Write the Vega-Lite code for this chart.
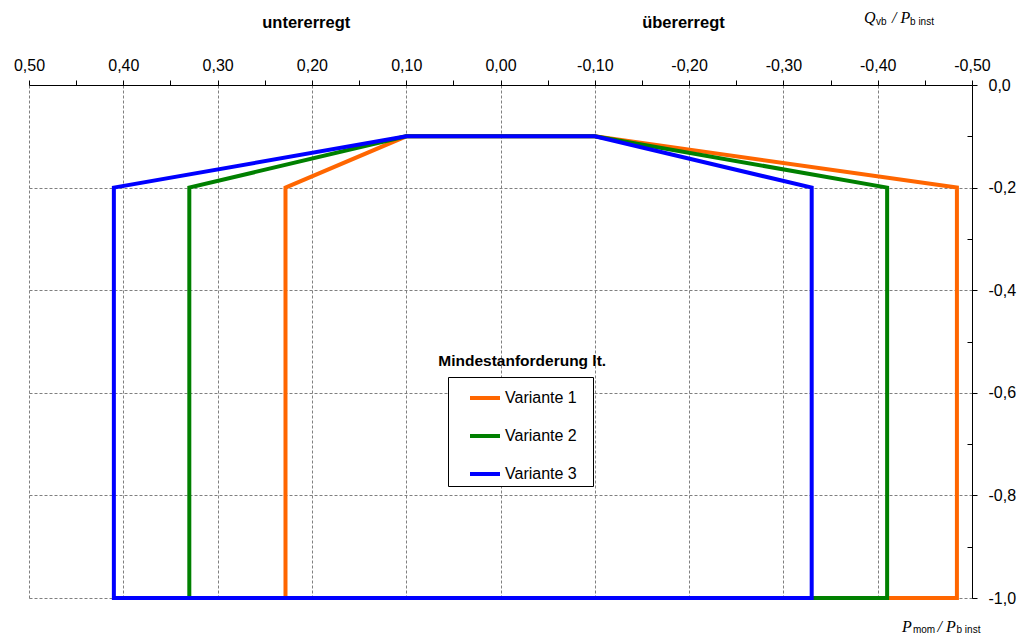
{
  "$schema": "https://vega.github.io/schema/vega-lite/v6.json",
  "width": 943,
  "height": 513,
  "autosize": "none",
  "padding": {"left": 29, "top": 85, "right": 48, "bottom": 38},
  "background": "white",
  "config": {"view": {"stroke": null}, "font": "Liberation Sans"},
  "datasets": {
    "poly": [
      {"Variante": "Variante 1", "i": 0, "Q": 0.228, "P": -1.0},
      {"Variante": "Variante 1", "i": 1, "Q": 0.228, "P": -0.2},
      {"Variante": "Variante 1", "i": 2, "Q": 0.1, "P": -0.1},
      {"Variante": "Variante 1", "i": 3, "Q": -0.1, "P": -0.1},
      {"Variante": "Variante 1", "i": 4, "Q": -0.484, "P": -0.2},
      {"Variante": "Variante 1", "i": 5, "Q": -0.484, "P": -1.0},
      {"Variante": "Variante 1", "i": 6, "Q": 0.228, "P": -1.0},
      {"Variante": "Variante 2", "i": 0, "Q": 0.33, "P": -1.0},
      {"Variante": "Variante 2", "i": 1, "Q": 0.33, "P": -0.2},
      {"Variante": "Variante 2", "i": 2, "Q": 0.1, "P": -0.1},
      {"Variante": "Variante 2", "i": 3, "Q": -0.1, "P": -0.1},
      {"Variante": "Variante 2", "i": 4, "Q": -0.41, "P": -0.2},
      {"Variante": "Variante 2", "i": 5, "Q": -0.41, "P": -1.0},
      {"Variante": "Variante 2", "i": 6, "Q": 0.33, "P": -1.0},
      {"Variante": "Variante 3", "i": 0, "Q": 0.41, "P": -1.0},
      {"Variante": "Variante 3", "i": 1, "Q": 0.41, "P": -0.2},
      {"Variante": "Variante 3", "i": 2, "Q": 0.1, "P": -0.1},
      {"Variante": "Variante 3", "i": 3, "Q": -0.1, "P": -0.1},
      {"Variante": "Variante 3", "i": 4, "Q": -0.33, "P": -0.2},
      {"Variante": "Variante 3", "i": 5, "Q": -0.33, "P": -1.0},
      {"Variante": "Variante 3", "i": 6, "Q": 0.41, "P": -1.0}
    ],
    "heads": [
      {"text": "untererregt", "Q": 0.206, "P": 0.111},
      {"text": "übererregt", "Q": -0.194, "P": 0.111}
    ],
    "legtitle": [
      {"text": "Mindestanforderung lt.", "Q": -0.023, "P": -0.548}
    ],
    "mainpieces": [
      {"text": "Q", "Q": -0.3855, "P": 0.1199},
      {"text": "/ P", "Q": -0.4152, "P": 0.1199},
      {"text": "P", "Q": -0.4258, "P": -1.0663},
      {"text": "/ P", "Q": -0.4635, "P": -1.0663}
    ],
    "subpieces": [
      {"text": "vb", "Q": -0.3982, "P": 0.1179},
      {"text": "b inst", "Q": -0.4343, "P": 0.1179},
      {"text": "mom", "Q": -0.4374, "P": -1.0682},
      {"text": "b inst", "Q": -0.4836, "P": -1.0682}
    ]
  },
  "layer": [
    {
      "data": {"name": "poly"},
      "mark": {"type": "line", "strokeWidth": 4, "strokeJoin": "miter", "strokeCap": "square"},
      "encoding": {
        "x": {
          "field": "Q", "type": "quantitative",
          "scale": {"domain": [0.5, -0.5], "nice": false, "zero": false},
          "axis": {
            "orient": "top", "title": null,
            "values": [0.5, 0.45, 0.4, 0.35, 0.3, 0.25, 0.2, 0.15, 0.1, 0.05, 0, -0.05, -0.1, -0.15, -0.2, -0.25, -0.3, -0.35, -0.4, -0.45, -0.5],
            "labelExpr": "abs(round(datum.value*20)) % 2 == 1 ? '' : (datum.value < -0.001 ? '-' : '') + replace(format(abs(datum.value), '.2f'), '.', ',')",
            "labelFont": "Liberation Sans", "labelFontSize": 16, "labelColor": "black",
            "labelOverlap": false, "labelFlush": false, "labelPadding": 7,
            "domainColor": "black", "domainWidth": 1,
            "tickColor": "black", "tickSize": 5, "tickWidth": 1,
            "grid": true, "gridColor": "#808080", "gridDash": [3, 2], "gridWidth": 1,
            "gridOpacity": {"condition": {"test": "abs(round(datum.value*20)) % 2 == 1", "value": 0}, "value": 1}
          }
        },
        "y": {
          "field": "P", "type": "quantitative",
          "scale": {"domain": [-1, 0], "nice": false, "zero": false},
          "axis": {
            "orient": "right", "title": null,
            "values": [0, -0.05, -0.1, -0.15, -0.2, -0.25, -0.3, -0.35, -0.4, -0.45, -0.5, -0.55, -0.6, -0.65, -0.7, -0.75, -0.8, -0.85, -0.9, -0.95, -1],
            "labelExpr": "abs(round(datum.value*20)) % 4 != 0 ? '' : (datum.value < -0.001 ? '-' : '') + replace(format(abs(datum.value), '.1f'), '.', ',')",
            "labelFont": "Liberation Sans", "labelFontSize": 16, "labelColor": "black",
            "labelOverlap": false, "labelFlush": false, "labelPadding": 11,
            "domainColor": "black", "domainWidth": 1,
            "tickColor": "black", "tickWidth": 1,
            "tickSize": {"condition": {"test": "abs(round(datum.value*20)) % 4 != 0", "value": -5}, "value": 5},
            "grid": true, "gridColor": "#808080", "gridDash": [3, 2], "gridWidth": 1,
            "gridOpacity": {"condition": {"test": "abs(round(datum.value*20)) % 4 != 0", "value": 0}, "value": 1}
          }
        },
        "order": {"field": "i", "type": "quantitative"},
        "color": {
          "field": "Variante", "type": "nominal",
          "scale": {"domain": ["Variante 1", "Variante 2", "Variante 3"], "range": ["#FF6600", "#008000", "#0000FF"]},
          "legend": {
            "orient": "none", "legendX": 419, "legendY": 292, "title": null,
            "symbolType": "stroke", "symbolStrokeWidth": 4, "symbolSize": 900,
            "symbolOffset": 16, "labelOffset": 3, "padding": 4, "rowPadding": 13,
            "labelFont": "Liberation Sans", "labelFontSize": 16, "labelColor": "black",
            "labelExpr": "datum.label + '\u2800'",
            "strokeColor": "black", "fillColor": "white"
          }
        }
      }
    },
    {
      "data": {"name": "heads"},
      "mark": {"type": "text", "font": "Liberation Sans", "fontWeight": "bold", "fontSize": 16.5, "align": "center", "baseline": "alphabetic", "color": "black"},
      "encoding": {
        "x": {"field": "Q", "type": "quantitative", "scale": {"domain": [0.5, -0.5], "nice": false, "zero": false}},
        "y": {"field": "P", "type": "quantitative", "scale": {"domain": [-1, 0], "nice": false, "zero": false}},
        "text": {"field": "text"}
      }
    },
    {
      "data": {"name": "legtitle"},
      "mark": {"type": "text", "font": "Liberation Sans", "fontWeight": "bold", "fontSize": 15.5, "align": "center", "baseline": "alphabetic", "color": "black"},
      "encoding": {
        "x": {"field": "Q", "type": "quantitative", "scale": {"domain": [0.5, -0.5], "nice": false, "zero": false}},
        "y": {"field": "P", "type": "quantitative", "scale": {"domain": [-1, 0], "nice": false, "zero": false}},
        "text": {"field": "text"}
      }
    },
    {
      "data": {"name": "mainpieces"},
      "mark": {"type": "text", "font": "Liberation Serif", "fontStyle": "italic", "fontSize": 16, "align": "left", "baseline": "alphabetic", "color": "black"},
      "encoding": {
        "x": {"field": "Q", "type": "quantitative", "scale": {"domain": [0.5, -0.5], "nice": false, "zero": false}},
        "y": {"field": "P", "type": "quantitative", "scale": {"domain": [-1, 0], "nice": false, "zero": false}},
        "text": {"field": "text"}
      }
    },
    {
      "data": {"name": "subpieces"},
      "mark": {"type": "text", "font": "Liberation Sans", "fontSize": 10, "align": "left", "baseline": "alphabetic", "color": "black"},
      "encoding": {
        "x": {"field": "Q", "type": "quantitative", "scale": {"domain": [0.5, -0.5], "nice": false, "zero": false}},
        "y": {"field": "P", "type": "quantitative", "scale": {"domain": [-1, 0], "nice": false, "zero": false}},
        "text": {"field": "text"}
      }
    }
  ]
}
